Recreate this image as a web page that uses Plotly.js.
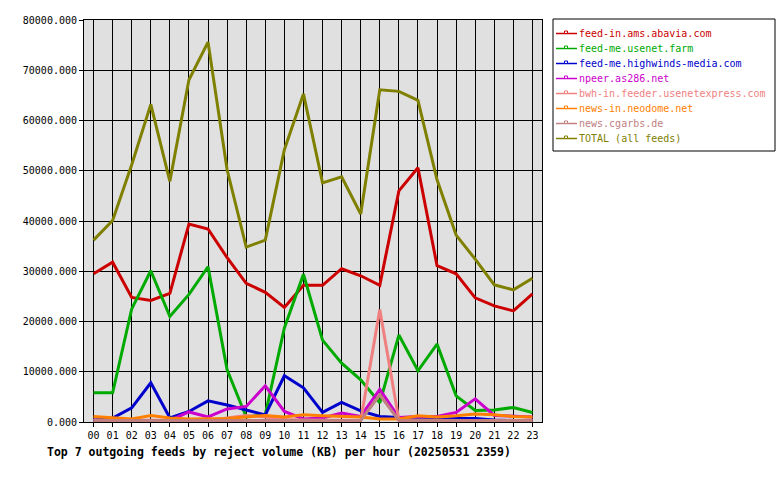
<!DOCTYPE html>
<html>
<head>
<meta charset="utf-8">
<script src="https://cdn.plot.ly/plotly-3.0.1.min.js"></script>
<style>html,body{margin:0;padding:0;background:#fff}#chart{width:780px;height:480px}</style>
</head>
<body>
<div id="chart"></div>
<script>
const hours = ['00','01','02','03','04','05','06','07','08','09','10','11','12','13','14','15','16','17','18','19','20','21','22','23'];
const seriesNames = ['feed-in.ams.abavia.com','feed-me.usenet.farm','feed-me.highwinds-media.com','npeer.as286.net','bwh-in.feeder.usenetexpress.com','news-in.neodome.net','news.cgarbs.de','TOTAL (all feeds)'];
const abavia = [29500,31800,24800,24200,25600,39400,38400,32700,27600,25800,22800,27200,27200,30500,29100,27200,46000,50600,31100,29500,24700,23100,22100,25500];
const usenetFarm = [5800,5800,22500,30100,21000,25400,30900,10400,1000,1500,18700,29400,16300,11700,8400,3800,17300,10200,15500,5200,2300,2400,2900,1900];
const highwinds = [400,800,2800,7800,800,2100,4200,3400,2400,1400,9200,6800,1900,3900,2200,1100,900,500,500,700,700,400,300,300];
const npeer = [200,200,200,300,300,2000,1000,2600,3100,7200,2100,600,800,1800,1100,6500,900,1100,1100,1900,4600,1300,1100,1000];
const usenetexpress = [400,400,300,300,300,300,300,800,1300,1000,500,400,400,400,300,22400,400,400,300,300,300,300,300,300];
const neodome = [1100,800,600,1300,800,600,600,700,1000,1300,1000,1450,1250,1100,1000,600,600,1250,1000,1250,1600,1450,1100,1000];
const cgarbs = [300,300,300,300,300,300,300,300,300,300,300,300,300,300,300,5400,300,300,300,300,300,300,300,300];
const total = [36200,40100,51200,63200,47900,68100,75600,50200,34800,36200,54200,65300,47600,48800,41400,66100,65800,64000,48200,37200,32400,27300,26300,28600];
const colors = ['#cc0000','#00aa00','#0000cc','#cc00cc','#f08080','#ff8000','#c08080','#808000'];
const values = [abavia, usenetFarm, highwinds, npeer, usenetexpress, neodome, cgarbs, total];

const mono = '"DejaVu Sans Mono", "Liberation Mono", monospace';
const traces = values.map((v, i) => ({
  x: hours, y: v, type: 'scatter', mode: 'lines',
  name: seriesNames[i],
  line: {color: colors[i], width: 3},
  hoverinfo: 'skip'
}));

// plot area geometry in pixels (for the hand-drawn legend box)
const W = 780, H = 480, L = 84, R = 238, T = 20, B = 58;
const pw = W - L - R, ph = H - T - B;
const px = x => (x - L) / pw;
const py = y => (H - B - y) / ph;

const shapes = [{type: 'rect', xref: 'paper', yref: 'paper', x0: px(553), x1: px(775), y0: py(151), y1: py(19),
                 line: {color: '#000', width: 1}, fillcolor: '#fff', layer: 'above'}];
const annotations = [{
  text: '<b>Top 7 outgoing feeds by reject volume (KB) per hour (20250531 2359)</b>',
  xref: 'paper', yref: 'paper', x: px(45), y: py(452), xanchor: 'left', yanchor: 'middle',
  showarrow: false, font: {family: mono, size: 11.5, color: '#000'}
}];
seriesNames.forEach((name, i) => {
  const cy = 33.5 + 15 * i;
  shapes.push({type: 'line', xref: 'paper', yref: 'paper', x0: px(556), x1: px(577), y0: py(cy), y1: py(cy),
               line: {color: colors[i], width: 1.5}, layer: 'above'});
  shapes.push({type: 'rect', xref: 'paper', yref: 'paper', x0: px(564.5), x1: px(567.5), y0: py(cy), y1: py(cy - 2.5),
               line: {color: colors[i], width: 1}, fillcolor: '#fff', layer: 'above'});
  annotations.push({text: name, xref: 'paper', yref: 'paper', x: px(577), y: py(cy), xanchor: 'left', yanchor: 'middle',
                    showarrow: false, font: {family: mono, size: 10, color: colors[i]}});
});

const layout = {
  width: W, height: H,
  margin: {l: L, r: R, t: T, b: B, autoexpand: false},
  paper_bgcolor: '#ffffff', plot_bgcolor: '#e0e0e0',
  font: {family: mono, size: 10, color: '#000'},
  showlegend: false,
  xaxis: {type: 'category', range: [-0.5, 23.5], showgrid: true, gridcolor: '#000', gridwidth: 1,
          showline: true, linecolor: '#000', linewidth: 1, mirror: true,
          ticks: 'outside', ticklen: 4, tickcolor: '#000', tickfont: {family: mono, size: 10}, zeroline: false},
  yaxis: {range: [0, 80000], dtick: 10000, tickformat: '.3f', showgrid: true, gridcolor: '#000', gridwidth: 1,
          showline: true, linecolor: '#000', linewidth: 1, mirror: true,
          ticks: 'outside', ticklen: 4, tickcolor: '#000', tickfont: {family: mono, size: 10}, zeroline: false},
  shapes: shapes,
  annotations: annotations
};
Plotly.newPlot('chart', traces, layout, {displayModeBar: false, staticPlot: true});
</script>
</body>
</html>
